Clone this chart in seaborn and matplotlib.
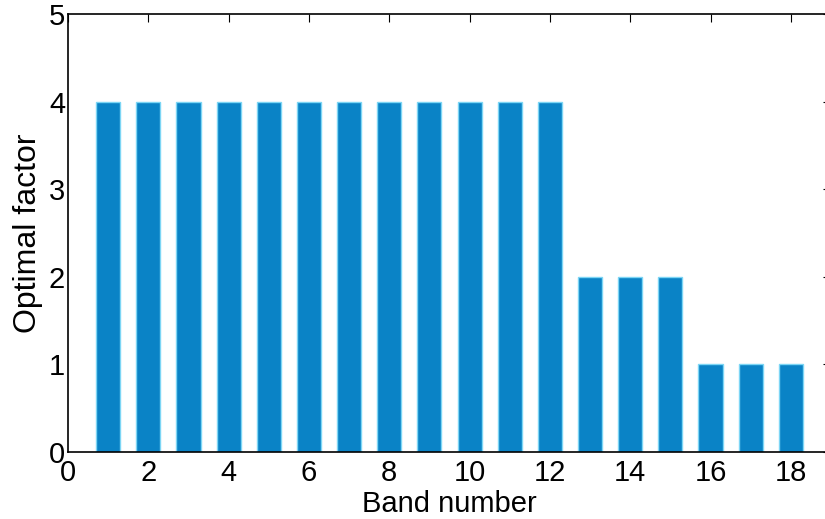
import matplotlib
matplotlib.use("Agg")
import matplotlib.pyplot as plt
import seaborn as sns
import pandas as pd

bands = list(range(1, 19))
optimal_factor = [4, 4, 4, 4, 4, 4, 4, 4, 4, 4, 4, 4, 2, 2, 2, 1, 1, 1]
x_ticks = [0, 2, 4, 6, 8, 10, 12, 14, 16, 18]
y_ticks = [0, 1, 2, 3, 4, 5]

df = pd.DataFrame({"band": bands, "factor": optimal_factor})

sns.set_style("white")
plt.rcParams["font.family"] = ["Liberation Sans", "DejaVu Sans"]
plt.rcParams["text.color"] = "black"
plt.rcParams["axes.labelcolor"] = "black"
plt.rcParams["xtick.color"] = "black"
plt.rcParams["ytick.color"] = "black"

fig = plt.figure(figsize=(8.25, 5.19), dpi=100)
ax = fig.add_axes([68 / 825, 67 / 519, (831 - 68) / 825, (452 - 14) / 519])

sns.barplot(data=df, x="band", y="factor", native_scale=True, width=0.6,
            color="#0a83c6", saturation=1, edgecolor="#7dd6f5", linewidth=1,
            ax=ax)

ax.set_xlim(0, 19)
ax.set_ylim(0, 5)
ax.set_xticks(x_ticks)
ax.set_yticks(y_ticks)
ax.set_xticklabels([str(t) for t in x_ticks])
ax.set_yticklabels([str(t) for t in y_ticks])
ax.tick_params(direction="in", length=6, width=0.8, top=True, right=True,
               labelsize=21, colors="black")
ax.tick_params(axis="x", pad=5)
ax.tick_params(axis="y", pad=2)
for s in ax.spines.values():
    s.set_color("black")
    s.set_linewidth(1.2)
    s.set_visible(True)

ax.set_xlabel("Band number", fontsize=21, labelpad=2, color="black")
ax.set_ylabel("Optimal factor", fontsize=23, labelpad=4, color="black")

fig.savefig("out.png", dpi=100)
